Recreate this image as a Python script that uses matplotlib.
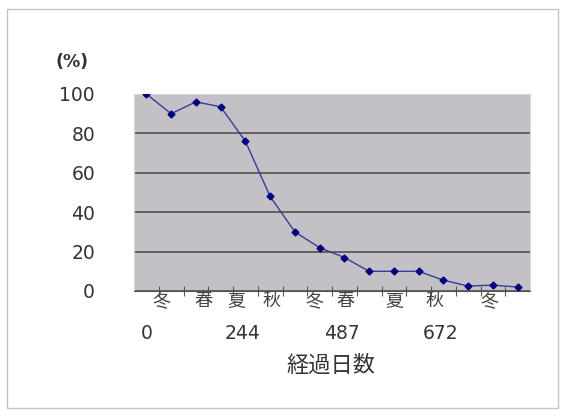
import matplotlib
matplotlib.use("Agg")
from matplotlib import pyplot as plt
from matplotlib.patches import Rectangle

plt.rcParams['font.family'] = ['Noto Sans CJK JP', 'DejaVu Sans']

# survival rate (%) at each survey
survival = [100, 90, 96, 93.5, 76, 48, 30, 22, 17, 10, 10, 10, 5.5, 2.5, 3, 2]

# season labels and their positions along the category axis
seasons = ['冬', '春', '夏', '秋', '冬', '春', '夏', '秋', '冬']
season_pos = [0.6, 2.3, 3.65, 5.05, 6.8, 8.05, 10.0, 11.65, 13.85]

# elapsed-day labels and positions
days = ['0', '244', '487', '672']
day_pos = [0.0, 3.9, 7.9, 11.9]

yticks = [0, 20, 40, 60, 80, 100]

fig = plt.figure(figsize=(5.61, 4.17), dpi=100)
fig.patches.append(Rectangle((7 / 561, 1 - 408 / 417), 551 / 561, 399 / 417,
                             transform=fig.transFigure, fill=False,
                             edgecolor='#c4c4c4', linewidth=1.0))

ax = fig.add_axes([134 / 561, 1 - 291 / 417, 396 / 561, 197 / 417])
ax.set_facecolor('#c3c1c6')

x = list(range(len(survival)))
ax.plot(x, survival, color='#3a3a9a', linewidth=1.0, marker='D',
        markersize=3.5, markerfacecolor='#000080', markeredgecolor='#000080',
        zorder=3)

ax.set_xlim(-0.5, len(survival) - 0.5)
ax.set_ylim(0, 100)
ax.set_yticks(yticks)
ax.set_yticklabels([str(v) for v in yticks], family='DejaVu Sans')
ax.yaxis.grid(True, color='#505050', linewidth=1.2)
ax.set_axisbelow(True)
ax.tick_params(axis='y', length=0, labelsize=13.5, pad=28, colors='#333333')

ax.set_xticks([i + 0.5 for i in range(len(survival) - 1)])
ax.set_xticklabels([])
ax.tick_params(axis='x', direction='inout', length=7, width=0.8, color='#555555')

for s in ['top', 'right', 'left']:
    ax.spines[s].set_color('#d8d8dc')
ax.spines['bottom'].set_color('#555555')

trans = ax.get_xaxis_transform()
for lab, pos in zip(seasons, season_pos):
    ax.text(pos, -0.05, lab, transform=trans, ha='center', va='center',
            fontsize=13, color='#444444')
for lab, pos in zip(days, day_pos):
    ax.text(pos, -0.215, lab, transform=trans, ha='center', va='center',
            fontsize=13.5, color='#333333', family='DejaVu Sans')

fig.text(331 / 561, 1 - 365 / 417, '経過日数', ha='center', va='center',
         fontsize=16, color='#333333')
fig.text(72 / 561, 1 - 62 / 417, '(%)', ha='center', va='center',
         fontsize=12.5, color='#333333', fontweight='bold', family='DejaVu Sans')

fig.savefig('out.png', dpi=100)
